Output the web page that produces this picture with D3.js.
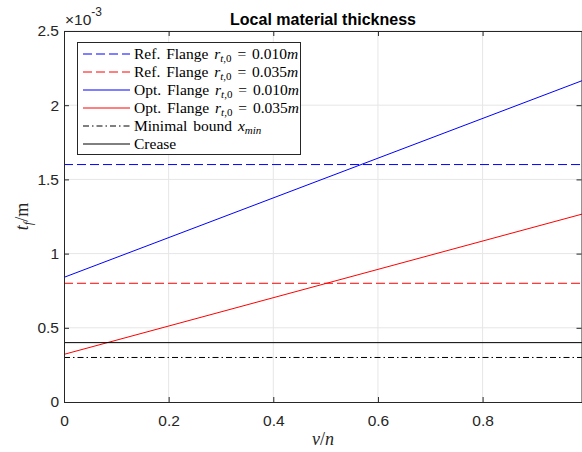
<!DOCTYPE html>
<html><head><meta charset="utf-8">
<script src="https://cdn.jsdelivr.net/npm/d3@7"></script>
<style>body{margin:0;background:#fff}svg{display:block}</style>
</head><body>
<script>
// ---- data (thickness in units of 1e-3 m) ----
const xPts = [0, 0.99];
const optFlange010 = [0.84, 2.165];
const optFlange035 = [0.321, 1.266];
const refFlange010 = [1.6, 1.6];
const refFlange035 = [0.8, 0.8];
const minimalBound = [0.3, 0.3];
const crease = [0.4, 0.4];
const xTicks = [0, 0.2, 0.4, 0.6, 0.8];
const yTicks = [0, 0.5, 1, 1.5, 2, 2.5];
const yTickLabels = ["0", "0.5", "1", "1.5", "2", "2.5"];

const series = [
  {name: "Ref. Flange", r: "0.010", vals: refFlange010, color: "#0000ff", dash: "9,4"},
  {name: "Ref. Flange", r: "0.035", vals: refFlange035, color: "#ff0000", dash: "9,4"},
  {name: "Opt. Flange", r: "0.010", vals: optFlange010, color: "#0000ff", dash: null},
  {name: "Opt. Flange", r: "0.035", vals: optFlange035, color: "#ff0000", dash: null},
  {name: "Minimal bound", sub: "min", vals: minimalBound, color: "#000000", dash: "6,3,1.5,3"},
  {name: "Crease", vals: crease, color: "#000000", dash: null}
];

const W = 582, H = 452;
const m = {l: 64, r: 582, t: 31, b: 402};
const svg = d3.select("body").append("svg").attr("width", W).attr("height", H);
const x = d3.scaleLinear().domain([0, 0.99]).range([m.l, m.r]);
const y = d3.scaleLinear().domain([0, 2.5]).range([m.b, m.t]);
const axCol = "#262626";
const sans = "'Liberation Sans', Arial, sans-serif";
const serif = "'Liberation Serif', 'DejaVu Serif', serif";

// grid
const g = svg.append("g");
g.selectAll(".gx").data(xTicks.filter(d => d > 0)).enter().append("line")
  .attr("x1", d => x(d)).attr("x2", d => x(d)).attr("y1", m.t).attr("y2", m.b)
  .attr("stroke", "#e6e6e6").attr("stroke-width", 1);
g.selectAll(".gy").data(yTicks.filter(d => d > 0)).enter().append("line")
  .attr("y1", d => y(d)).attr("y2", d => y(d)).attr("x1", m.l).attr("x2", m.r)
  .attr("stroke", "#e6e6e6").attr("stroke-width", 1);

// data lines
const line = d3.line().x((d, i) => x(xPts[i])).y(d => y(d));
series.forEach(s => {
  svg.append("path").datum(s.vals).attr("d", line).attr("fill", "none")
    .attr("stroke", s.color).attr("stroke-width", 1)
    .attr("stroke-dasharray", s.dash);
});

// axes
const xAx = d3.axisBottom(x).tickValues(xTicks).tickSize(-5).tickPadding(13).tickFormat(d => d === 0 ? "0" : d3.format(".1f")(d));
const xg = svg.append("g").attr("transform", `translate(0,${m.b})`).call(xAx);
const xTop = svg.append("g").attr("transform", `translate(0,${m.t})`).call(d3.axisTop(x).tickValues(xTicks).tickSize(-5).tickFormat(""));
const yAx = d3.axisLeft(y).tickValues(yTicks).tickSize(-5).tickPadding(5).tickFormat((d, i) => yTickLabels[i]);
const yg = svg.append("g").attr("transform", `translate(${m.l},0)`).call(yAx);
const yR = svg.append("g").attr("transform", `translate(${m.r - 0.5},0)`).call(d3.axisRight(y).tickValues(yTicks).tickSize(-5).tickFormat(""));
[xg, xTop, yg, yR].forEach(a => {
  a.select(".domain").attr("stroke", axCol).attr("stroke-width", 1);
  a.selectAll(".tick line").attr("stroke", axCol);
  a.selectAll("text").attr("fill", axCol).style("font-family", sans).style("font-size", "15.5px");
});
xTop.select(".domain").remove();
svg.append("line").attr("x1", m.l).attr("x2", m.r).attr("y1", m.t + 0.5).attr("y2", m.t + 0.5).attr("stroke", axCol);

// exponent
const ex = svg.append("text").attr("x", m.l + 1).attr("y", 25).attr("fill", axCol)
  .style("font-family", sans).style("font-size", "15.5px");
ex.append("tspan").text("×10");
ex.append("tspan").attr("dy", -9).style("font-size", "12px").text("-3");

// title
svg.append("text").attr("x", (m.l + m.r) / 2).attr("y", 25).attr("text-anchor", "middle")
  .style("font-family", sans).style("font-size", "16px").style("font-weight", "bold")
  .attr("fill", "#000").text("Local material thickness");

// axis labels
const yl = svg.append("text").attr("transform", `translate(28,${(m.t + m.b) / 2}) rotate(-90)`)
  .attr("text-anchor", "middle").style("font-family", serif).style("font-size", "18px").attr("fill", axCol);
yl.append("tspan").style("font-style", "italic").text("t");
yl.append("tspan").attr("dy", 4).style("font-size", "12px").style("font-style", "italic").text("f");
yl.append("tspan").attr("dy", -4).text("/m");

const xl = svg.append("text").attr("x", (m.l + m.r) / 2).attr("y", 445).attr("text-anchor", "middle")
  .style("font-family", serif).style("font-size", "18px").attr("fill", axCol);
xl.append("tspan").style("font-style", "italic").text("v");
xl.append("tspan").text("/");
xl.append("tspan").style("font-style", "italic").text("n");

// legend
const lg = svg.append("g");
lg.append("rect").attr("x", 77.5).attr("y", 42.5).attr("width", 223).attr("height", 112)
  .attr("fill", "#fff").attr("stroke", axCol).attr("stroke-width", 1);
series.forEach((s, i) => {
  const yy = 54 + i * 18;
  lg.append("line").attr("x1", 83).attr("x2", 130).attr("y1", yy).attr("y2", yy)
    .attr("stroke", s.color).attr("stroke-width", 1).attr("stroke-dasharray", s.dash);
  const t = lg.append("text").attr("x", 134).attr("y", yy + 5).attr("fill", "#000")
    .style("font-family", serif).style("font-size", "15.5px").style("word-spacing", "2px");
  if (s.r) {
    t.append("tspan").text(s.name + " ");
    t.append("tspan").style("font-style", "italic").text("r");
    t.append("tspan").attr("dy", 3).style("font-size", "11px").style("font-style", "italic").text("t");
    t.append("tspan").style("font-size", "11px").text(",0");
    t.append("tspan").attr("dy", -3).text(" = " + s.r);
    t.append("tspan").style("font-style", "italic").text("m");
  } else if (s.sub) {
    t.append("tspan").text(s.name + " ");
    t.append("tspan").style("font-style", "italic").text("x");
    t.append("tspan").attr("dy", 3).style("font-size", "11px").style("font-style", "italic").text(s.sub);
  } else {
    t.append("tspan").text(s.name);
  }
});
</script>
</body></html>
